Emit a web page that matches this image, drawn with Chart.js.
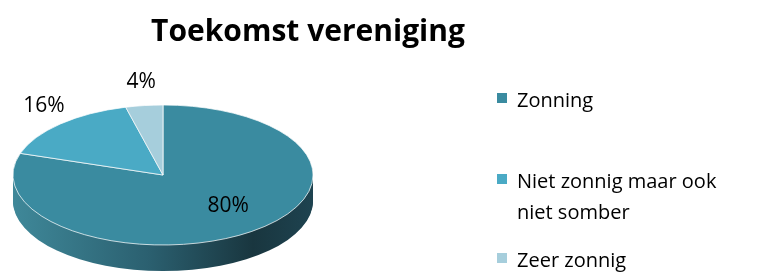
<!DOCTYPE html>
<html>
<head>
<meta charset="utf-8">
<script src="https://cdn.jsdelivr.net/npm/chart.js@4.4.0/dist/chart.umd.min.js"></script>
<style>
  body { margin: 0; background: #fff; }
  #wrap { position: relative; width: 765px; height: 273px; overflow: hidden; }
  #grafik { position: absolute; left: 0; top: 0; }
  #legenda { position: absolute; left: 0; top: 0; font-family: "Open Sans", sans-serif; font-size: 20px; color: #000; }
  .item { position: absolute; left: 517px; width: 235px; line-height: 31px; }
  .kotak { position: absolute; left: -20px; top: 9px; width: 10px; height: 10px; }
</style>
</head>
<body>
<div id="wrap">
  <canvas id="grafik" width="616" height="273"></canvas>
  <div id="legenda"></div>
</div>
<script>
const categories = ["Zonning", "Niet zonnig maar ook niet somber", "Zeer zonnig"];
const percentages = [80, 16, 4];
const percentLabels = ["80%", "16%", "4%"];

const sliceColors = ["#3a8ba0", "#4aaac5", "#a6cedc"];
const legendTops = [84, 165, 244];

// where the tilted pie sits on screen, and how flat it is
const tilt = { cx: 163, cy: 175, ratio: 70 / 150, depth: 26 };

const pie3d = {
    id: "pie3d",
    beforeDatasetsDraw(chart) {
        const ctx = chart.ctx;
        const arcs = chart.getDatasetMeta(0).data;
        const a0 = arcs[0];
        ctx.save();
        ctx.translate(tilt.cx - a0.x, tilt.cy);
        ctx.scale(1, tilt.ratio);
        ctx.translate(0, -a0.y);

        // side of the pie
        const g = ctx.createLinearGradient(a0.x - a0.outerRadius, 0, a0.x + a0.outerRadius, 0);
        g.addColorStop(0, "#3f8899");
        g.addColorStop(0.45, "#2b6070");
        g.addColorStop(0.8, "#19363f");
        g.addColorStop(1, "#1e4350");
        ctx.fillStyle = g;
        for (let d = tilt.depth; d > 0; d--) {
            const off = d / tilt.ratio;
            arcs.forEach(function (a) {
                ctx.beginPath();
                ctx.moveTo(a.x, a.y + off);
                ctx.arc(a.x, a.y + off, a.outerRadius, a.startAngle, a.endAngle);
                ctx.closePath();
                ctx.fill();
            });
        }
    },
    afterDatasetsDraw(chart) {
        const ctx = chart.ctx;
        ctx.restore();
        const arcs = chart.getDatasetMeta(0).data;
        ctx.save();
        ctx.font = "21px 'Open Sans'";
        ctx.fillStyle = "#000";
        ctx.textAlign = "center";
        ctx.textBaseline = "middle";
        arcs.forEach(function (a, i) {
            const mid = (a.startAngle + a.endAngle) / 2;
            const c = Math.cos(mid), s = Math.sin(mid);
            let px, py;
            if (percentages[i] >= 50) {
                px = tilt.cx + c * a.outerRadius * 0.74;
                py = tilt.cy + s * a.outerRadius * 0.54 * tilt.ratio;
            } else {
                px = tilt.cx + c * a.outerRadius + c * 24;
                py = tilt.cy + s * a.outerRadius * tilt.ratio + s * 24;
            }
            ctx.fillText(percentLabels[i], px, py);
        });
        ctx.restore();
    }
};

new Chart(document.getElementById("grafik"), {
    type: "pie",
    data: {
        labels: categories,
        datasets: [
            {
                data: percentages,
                backgroundColor: sliceColors,
                borderColor: "#ffffff",
                borderWidth: 1,
                radius: 150,
                clip: false,
            },
        ],
    },
    options: {
        responsive: false,
        animation: false,
        layout: { padding: 0 },
        plugins: {
            legend: { display: false },
            tooltip: { enabled: false },
            title: {
                display: true,
                text: "Toekomst vereniging",
                color: "#000",
                font: { family: "'Open Sans'", size: 30, weight: "bold" },
                padding: { top: 14, bottom: 10 },
            },
        },
    },
    plugins: [pie3d],
});

const legenda = document.getElementById("legenda");
categories.forEach(function (name, i) {
    const item = document.createElement("div");
    item.className = "item";
    item.style.top = legendTops[i] + "px";
    const kotak = document.createElement("span");
    kotak.className = "kotak";
    kotak.style.background = sliceColors[i];
    item.appendChild(kotak);
    item.appendChild(document.createTextNode(name));
    legenda.appendChild(item);
});
</script>
</body>
</html>
